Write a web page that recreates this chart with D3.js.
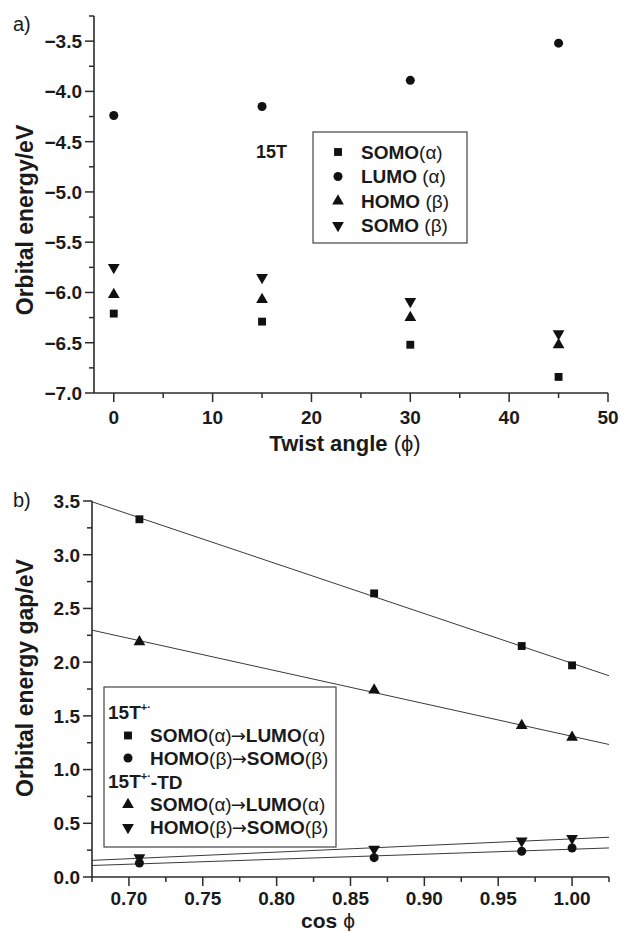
<!DOCTYPE html>
<html>
<head>
<meta charset="utf-8">
<script src="https://cdn.jsdelivr.net/npm/d3@7"></script>
<style>
  html, body { margin: 0; padding: 0; background: #fff; }
  svg { display: block; }
  text { font-family: "Liberation Sans", Arial, sans-serif; fill: #1a1a1a; }
</style>
</head>
<body>
<script>
// ---------- Data: panel a ----------
const twistAngles = [0, 15, 30, 45];
const somoAlpha = [-6.21, -6.29, -6.52, -6.84];
const lumoAlpha = [-4.24, -4.15, -3.89, -3.52];
const homoBeta  = [-6.02, -6.07, -6.25, -6.52];
const somoBeta  = [-5.75, -5.85, -6.09, -6.41];
const legendA = ["SOMO(α)", "LUMO (α)", "HOMO (β)", "SOMO (β)"];
const xTicksA = [0, 10, 20, 30, 40, 50];
const yTicksA = [-7.0, -6.5, -6.0, -5.5, -5.0, -4.5, -4.0, -3.5];

// ---------- Data: panel b ----------
const cosPhi = [0.7071, 0.8660, 0.9659, 1.0];
const gapSomoLumo   = [3.33, 2.64, 2.15, 1.97];   // 15T+. SOMO(α)->LUMO(α)
const gapHomoSomo   = [0.13, 0.18, 0.24, 0.27];   // 15T+. HOMO(β)->SOMO(β)
const tdSomoLumo    = [2.19, 1.74, 1.41, 1.30];   // 15T+.-TD SOMO(α)->LUMO(α)
const tdHomoSomo    = [0.18, 0.26, 0.335, 0.36];  // 15T+.-TD HOMO(β)->SOMO(β)
const xTicksB = [0.70, 0.75, 0.80, 0.85, 0.90, 0.95, 1.00];
const yTicksB = [0.0, 0.5, 1.0, 1.5, 2.0, 2.5, 3.0, 3.5];

const W = 621, H = 931;
const svg = d3.select("body").append("svg").attr("width", W).attr("height", H);

const AX = "#2b2b2b";
const FS = 19;

function sym(type, size, rot) {
  return { path: d3.symbol().type(type).size(size)(), rot: rot || 0 };
}
const SQ = sym(d3.symbolSquare, 62);
const CI = sym(d3.symbolCircle, 64);
const TU = sym(d3.symbolTriangle, 60);
const TD = sym(d3.symbolTriangle, 60, 180);

function drawSym(g, s, x, y) {
  g.append("path").attr("d", s.path)
    .attr("transform", `translate(${x},${y}) rotate(${s.rot})`)
    .attr("fill", "#111");
}

function drawAxes(g, x, y, xMajor, xMinor, yMajor, yMinor, xFmt, yFmt, xLabelY) {
  const [x0, x1] = x.range();
  const [y0, y1] = y.range(); // y0 bottom
  g.append("line").attr("x1", x0).attr("x2", x0).attr("y1", y0).attr("y2", y1)
    .attr("stroke", AX).attr("stroke-width", 1.6);
  g.append("line").attr("x1", x0).attr("x2", x1).attr("y1", y0).attr("y2", y0)
    .attr("stroke", AX).attr("stroke-width", 1.6);
  yMajor.forEach(v => {
    g.append("line").attr("x1", x0 - 9).attr("x2", x0).attr("y1", y(v)).attr("y2", y(v))
      .attr("stroke", AX).attr("stroke-width", 1.5);
    g.append("text").attr("x", x0 - 12).attr("y", y(v)).attr("dy", "0.36em")
      .attr("text-anchor", "end").attr("font-weight", "bold").attr("font-size", FS)
      .text(yFmt(v));
  });
  yMinor.forEach(v => {
    g.append("line").attr("x1", x0 - 5).attr("x2", x0).attr("y1", y(v)).attr("y2", y(v))
      .attr("stroke", AX).attr("stroke-width", 1.5);
  });
  xMajor.forEach(v => {
    g.append("line").attr("x1", x(v)).attr("x2", x(v)).attr("y1", y0).attr("y2", y0 + 9)
      .attr("stroke", AX).attr("stroke-width", 1.5);
    g.append("text").attr("x", x(v)).attr("y", xLabelY)
      .attr("text-anchor", "middle").attr("font-weight", "bold").attr("font-size", FS)
      .text(xFmt(v));
  });
  xMinor.forEach(v => {
    g.append("line").attr("x1", x(v)).attr("x2", x(v)).attr("y1", y0).attr("y2", y0 + 5)
      .attr("stroke", AX).attr("stroke-width", 1.5);
  });
}

function greekText(sel, str) {
  const parts = str.split(/(\([αβ]\))/);
  parts.forEach(p => {
    if (!p) return;
    if (/^\([αβ]\)$/.test(p)) {
      sel.append("tspan").attr("font-weight", "normal").text(p);
    } else {
      sel.append("tspan").text(p);
    }
  });
}

// ================= Panel a =================
const gA = svg.append("g");
const xA = d3.scaleLinear().domain([-2, 50]).range([94, 608]);
const yA = d3.scaleLinear().domain([-7, -3.25]).range([393, 16]);

drawAxes(gA, xA, yA,
  xTicksA, [5, 15, 25, 35, 45],
  yTicksA, [-6.75, -6.25, -5.75, -5.25, -4.75, -4.25, -3.75, -3.25],
  d => d3.format("d")(d), d => d3.format(".1f")(d), 424);

const seriesA = [
  { vals: somoAlpha, s: SQ },
  { vals: lumoAlpha, s: CI },
  { vals: homoBeta, s: TU },
  { vals: somoBeta, s: TD }
];
seriesA.forEach(se => {
  se.vals.forEach((v, i) => drawSym(gA, se.s, xA(twistAngles[i]), yA(v)));
});

svg.append("text").attr("x", 13).attr("y", 31).attr("font-size", 20).text("a)");

svg.append("text")
  .attr("transform", "translate(33,220) rotate(-90)")
  .attr("text-anchor", "middle").attr("font-weight", "bold").attr("font-size", 23)
  .text("Orbital energy/eV");

const tA = svg.append("text").attr("x", 345).attr("y", 451)
  .attr("text-anchor", "middle").attr("font-weight", "bold").attr("font-size", 22);
tA.append("tspan").text("Twist angle ");
tA.append("tspan").attr("font-weight", "normal").text("(ϕ)");

svg.append("text").attr("x", 256).attr("y", 158)
  .attr("font-weight", "bold").attr("font-size", 18).text("15T");

// legend a
const legA = svg.append("g");
legA.append("rect").attr("x", 313).attr("y", 132).attr("width", 154).attr("height", 111)
  .attr("fill", "none").attr("stroke", "#444").attr("stroke-width", 1.2);
[SQ, CI, TU, TD].forEach((s, i) => {
  const cy = 152 + i * 24.5;
  drawSym(legA, s, 338, cy);
  const t = legA.append("text").attr("x", 361).attr("y", cy).attr("dy", "0.36em")
    .attr("font-weight", "bold").attr("font-size", FS);
  greekText(t, legendA[i]);
});

// ================= Panel b =================
const gB = svg.append("g");
const xB = d3.scaleLinear().domain([0.675, 1.025]).range([92, 609]);
const yB = d3.scaleLinear().domain([0, 3.5]).range([877, 501]);

function linReg(xs, ys) {
  const mx = d3.mean(xs), my = d3.mean(ys);
  let num = 0, den = 0;
  xs.forEach((x, i) => { num += (x - mx) * (ys[i] - my); den += (x - mx) * (x - mx); });
  const b = num / den;
  return { a: my - b * mx, b };
}

const seriesB = [
  { vals: gapSomoLumo, s: SQ },
  { vals: gapHomoSomo, s: CI },
  { vals: tdSomoLumo, s: TU },
  { vals: tdHomoSomo, s: TD }
];

svg.append("clipPath").attr("id", "clipB").append("rect")
  .attr("x", 92).attr("y", 501).attr("width", 517).attr("height", 376);
seriesB.forEach(se => {
  const r = linReg(cosPhi, se.vals);
  const d0 = xB.domain()[0], d1 = xB.domain()[1];
  gB.append("line")
    .attr("x1", xB(d0)).attr("y1", yB(r.a + r.b * d0))
    .attr("x2", xB(d1)).attr("y2", yB(r.a + r.b * d1))
    .attr("stroke", "#3a3a3a").attr("stroke-width", 1)
    .attr("clip-path", "url(#clipB)");
});

drawAxes(gB, xB, yB,
  xTicksB, [0.675, 0.725, 0.775, 0.825, 0.875, 0.925, 0.975, 1.025],
  yTicksB, [0.25, 0.75, 1.25, 1.75, 2.25, 2.75, 3.25],
  d => d3.format(".2f")(d), d => d3.format(".1f")(d), 905);

const legB = svg.append("g");
legB.append("rect").attr("x", 104).attr("y", 687).attr("width", 232).attr("height", 160)
  .attr("fill", "#fff").attr("stroke", "#444").attr("stroke-width", 1.2);

seriesB.forEach(se => {
  se.vals.forEach((v, i) => drawSym(gB, se.s, xB(cosPhi[i]), yB(v)));
});

const rowsB = [712, 735.5, 758, 781, 804.5, 827.5];
function header(y, suffix) {
  const t = legB.append("text").attr("x", 108).attr("y", y).attr("dy", "0.36em")
    .attr("font-weight", "bold").attr("font-size", FS);
  t.append("tspan").text("15T");
  t.append("tspan").attr("font-size", 11).attr("dy", "-0.75em").text("+·");
  if (suffix) t.append("tspan").attr("dy", "0.5em").text(suffix);
}
header(rowsB[0], "");
header(rowsB[3], "-TD");
const legBLabels = ["SOMO(α)→LUMO(α)", "HOMO(β)→SOMO(β)"];
[[SQ, 1, 0], [CI, 2, 1], [TU, 4, 0], [TD, 5, 1]].forEach(([s, r, li]) => {
  const cy = rowsB[r];
  drawSym(legB, s, 128, cy);
  const t = legB.append("text").attr("x", 150).attr("y", cy).attr("dy", "0.36em")
    .attr("font-weight", "bold").attr("font-size", FS);
  const parts = legBLabels[li].split("→");
  greekText(t, parts[0]);
  t.append("tspan").attr("font-weight", "normal").attr("font-family", "DejaVu Sans")
    .attr("font-size", 18).attr("dx", -1).text("→");
  t.append("tspan").attr("dx", -1).text("");
  greekText(t, parts[1]);
});

svg.append("text").attr("x", 13).attr("y", 507).attr("font-size", 20).text("b)");

svg.append("text")
  .attr("transform", "translate(33,678) rotate(-90)")
  .attr("text-anchor", "middle").attr("font-weight", "bold").attr("font-size", 23)
  .text("Orbital energy gap/eV");

const tB = svg.append("text").attr("x", 328).attr("y", 928)
  .attr("text-anchor", "middle").attr("font-weight", "bold").attr("font-size", 21);
tB.append("tspan").text("cos ");
tB.append("tspan").attr("font-weight", "normal").text("ϕ");
</script>
</body>
</html>
